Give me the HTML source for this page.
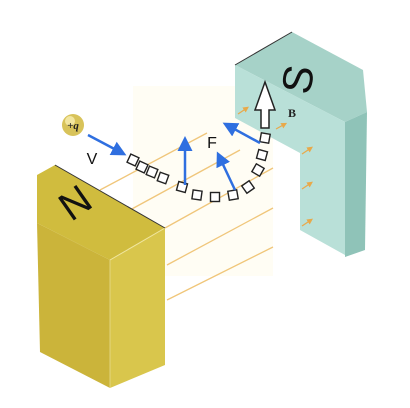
<!DOCTYPE html>
<html><head><meta charset="utf-8"><style>
html,body{margin:0;padding:0;background:#fff;}
svg{display:block;}
</style></head><body>
<svg width="410" height="408" viewBox="0 0 410 408" xmlns="http://www.w3.org/2000/svg">
<defs>
<marker id="ah" markerWidth="6" markerHeight="6" refX="4" refY="3" orient="auto" markerUnits="strokeWidth"><path d="M0,0 L6,3 L0,6 z" fill="#2f6fe0"/></marker>
<marker id="oh" markerWidth="5" markerHeight="5" refX="3" refY="2.5" orient="auto" markerUnits="strokeWidth"><path d="M0,0 L5,2.5 L0,5 z" fill="#e8a94a"/></marker>
</defs>
<rect x="133" y="86" width="140" height="190" fill="#fffdf4"/>
<g stroke="#f0c67a" stroke-width="1.3">
<line x1="100" y1="190" x2="207" y2="133"/>
<line x1="130" y1="210" x2="240" y2="150"/>
<line x1="165" y1="228" x2="273" y2="168"/>
<line x1="167" y1="265" x2="273" y2="208"/>
<line x1="167" y1="300" x2="273" y2="247"/>
</g>
<g>
<polygon points="235,65 292,32 363,70 367,112 345,122" fill="#a6d2c8"/>
<polygon points="235,65 345,122 345,255 300,230 300,153 235,118" fill="#b9e0d8"/>
<polygon points="345,122 367,112 365,250 345,257" fill="#8fc3b8"/>
<line x1="235" y1="65" x2="292" y2="32" stroke="#333" stroke-width="1"/>
<text x="312" y="82" font-family="Liberation Sans, sans-serif" font-size="42" fill="#111" transform="rotate(-80 312 82)" text-anchor="middle">S</text>
<g stroke="#e8a94a" stroke-width="1.2">
<line x1="238" y1="114" x2="247" y2="108" marker-end="url(#oh)"/>
<line x1="276" y1="129" x2="285" y2="124" marker-end="url(#oh)"/>
<line x1="302" y1="154" x2="311" y2="148" marker-end="url(#oh)"/>
<line x1="302" y1="189" x2="311" y2="183" marker-end="url(#oh)"/>
<line x1="302" y1="226" x2="311" y2="220" marker-end="url(#oh)"/>
</g>
</g>
<g>
<polygon points="37,175 55,165 165,228 110,260 37,223" fill="#d0bc3e"/>
<polygon points="37,223 110,260 110,388 40,352" fill="#cbb43a"/>
<polygon points="110,260 165,228 165,365 110,388" fill="#d9c64c"/>
<line x1="110" y1="260" x2="165" y2="228" stroke="#f0e6a0" stroke-width="1"/>
<line x1="110" y1="260" x2="110" y2="388" stroke="#e8dc90" stroke-width="0.8"/>
<line x1="55" y1="165" x2="165" y2="228" stroke="#333" stroke-width="1"/>
<text x="83" y="214" font-family="Liberation Sans, sans-serif" font-size="40" fill="#111" transform="rotate(-35 83 214)" text-anchor="middle">N</text>
</g>
<g>
<circle cx="73" cy="125" r="11" fill="#d8c35a"/>
<circle cx="70" cy="121" r="5" fill="#f2e6a0"/>
<text x="73" y="129" font-family="Liberation Serif, serif" font-style="italic" font-weight="bold" font-size="11" text-anchor="middle" fill="#222">+q</text>
</g>
<line x1="88" y1="135" x2="122" y2="153" stroke="#2f6fe0" stroke-width="2.5" marker-end="url(#ah)"/>
<text x="92" y="164" font-family="Liberation Sans, sans-serif" font-size="16" text-anchor="middle" fill="#111">V</text>
<g fill="#fff" stroke="#222" stroke-width="1.4">
<rect x="128.5" y="155.5" width="9" height="9" transform="rotate(25 133 160)"/>
<rect x="137.5" y="162.5" width="9" height="9" transform="rotate(25 142 167)"/>
<rect x="147.5" y="167.5" width="9" height="9" transform="rotate(22 152 172)"/>
<rect x="158.5" y="173.5" width="9" height="9" transform="rotate(20 163 178)"/>
<rect x="177.5" y="182.5" width="9" height="9" transform="rotate(15 182 187)"/>
<rect x="192.5" y="190.5" width="9" height="9" transform="rotate(8 197 195)"/>
<rect x="210.5" y="192.5" width="9" height="9"/>
<rect x="228.5" y="190.5" width="9" height="9" transform="rotate(-10 233 195)"/>
<rect x="243.5" y="182.5" width="9" height="9" transform="rotate(-35 248 187)"/>
<rect x="253.5" y="165.5" width="9" height="9" transform="rotate(-60 258 170)"/>
<rect x="257.5" y="150.5" width="9" height="9" transform="rotate(-75 262 155)"/>
<rect x="260.5" y="133.5" width="9" height="9" transform="rotate(-80 265 138)"/>
</g>
<g stroke="#2f6fe0" stroke-width="2.5">
<line x1="185" y1="185" x2="185" y2="141" marker-end="url(#ah)"/>
<line x1="235" y1="190" x2="219" y2="156" marker-end="url(#ah)"/>
<line x1="260" y1="143" x2="227" y2="125" marker-end="url(#ah)"/>
</g>
<text x="212" y="148" font-family="Liberation Sans, sans-serif" font-size="16" text-anchor="middle" fill="#111">F</text>
<polygon points="261,128 261,110 255,110 265,82 275,110 269,110 269,128" fill="#fff" stroke="#222" stroke-width="1.5"/>
<text x="292" y="117" font-family="Liberation Serif, serif" font-weight="bold" font-size="12" text-anchor="middle" fill="#222">B</text>
</svg>
</body></html>
